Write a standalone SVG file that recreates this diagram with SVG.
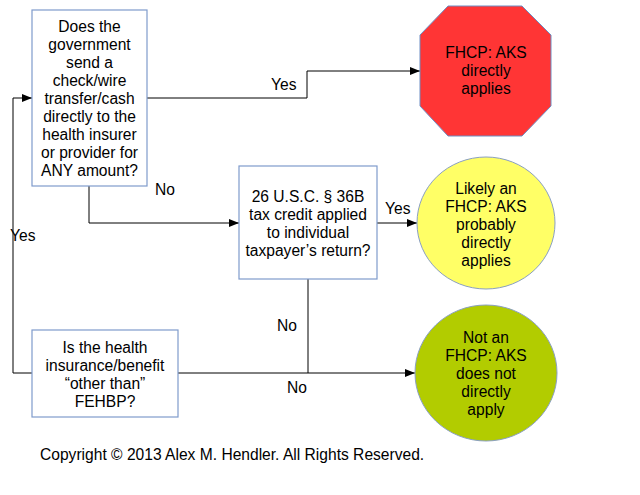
<svg xmlns="http://www.w3.org/2000/svg" width="640" height="495" viewBox="0 0 640 495">
<style>
.box{fill:#fff;stroke:#7f9bcc;stroke-width:1.2}
.t{font-family:"Liberation Sans",Arial,sans-serif;font-size:15.6px;fill:#000;text-anchor:middle}
.l{font-family:"Liberation Sans",Arial,sans-serif;font-size:15.6px;fill:#000}
.c{fill:none;stroke:#000;stroke-width:1}
</style>
<defs>
<marker id="ah" viewBox="0 0 10 8" refX="10" refY="4" markerWidth="10" markerHeight="8" markerUnits="userSpaceOnUse" orient="auto">
<path d="M0,0 L10,4 L0,8 z" fill="#000"/>
</marker>
</defs>
<rect width="640" height="495" fill="#fff"/>
<g id="connectors">
<path class="c" d="M147,98 H307 V71 H420" marker-end="url(#ah)"/>
<path class="c" d="M89,186 V223 H239" marker-end="url(#ah)"/>
<path class="c" d="M377,223 H417" marker-end="url(#ah)"/>
<path class="c" d="M308,279 V373"/>
<path class="c" d="M178,373 H415" marker-end="url(#ah)"/>
<path class="c" d="M32,373 H13 V98 H32" marker-end="url(#ah)"/>
<text class="l" x="271" y="90">Yes</text>
<text class="l" x="155" y="195">No</text>
<text class="l" x="385" y="214">Yes</text>
<text class="l" x="10" y="241">Yes</text>
<text class="l" x="277" y="331">No</text>
<text class="l" x="287" y="393">No</text>
</g>
<g id="q1">
<rect class="box" x="32" y="10" width="115" height="176"/>
<text class="t" x="89.5" y="32">Does the</text>
<text class="t" x="89.5" y="50">government</text>
<text class="t" x="89.5" y="68">send a</text>
<text class="t" x="89.5" y="86">check/wire</text>
<text class="t" x="89.5" y="104">transfer/cash</text>
<text class="t" x="89.5" y="122">directly to the</text>
<text class="t" x="89.5" y="140">health insurer</text>
<text class="t" x="89.5" y="158">or provider for</text>
<text class="t" x="89.5" y="176">ANY amount?</text>
</g>
<g id="stop">
<polygon points="448,6 522,6 551,35 551,106 522,136 448,136 420,106 420,35" fill="#ff3535" stroke="#6d8fc4" stroke-width="1"/>
<text class="t" x="486" y="58">FHCP: AKS</text>
<text class="t" x="486" y="76">directly</text>
<text class="t" x="486" y="94">applies</text>
</g>
<g id="q2">
<rect class="box" x="239" y="166" width="138" height="113"/>
<text class="t" x="308" y="202">26 U.S.C. § 36B</text>
<text class="t" x="308" y="220">tax credit applied</text>
<text class="t" x="308" y="238">to individual</text>
<text class="t" x="308" y="256">taxpayer’s return?</text>
</g>
<g id="likely">
<ellipse cx="486" cy="223" rx="69" ry="66" fill="#ffff66" stroke="#8a9fc4" stroke-width="1"/>
<text class="t" x="486" y="194">Likely an</text>
<text class="t" x="486" y="212">FHCP: AKS</text>
<text class="t" x="486" y="230">probably</text>
<text class="t" x="486" y="248">directly</text>
<text class="t" x="486" y="266">applies</text>
</g>
<g id="q3">
<rect class="box" x="32" y="330" width="146" height="87"/>
<text class="t" x="105" y="353">Is the health</text>
<text class="t" x="105" y="371">insurance/benefit</text>
<text class="t" x="105" y="389">“other than”</text>
<text class="t" x="105" y="407">FEHBP?</text>
</g>
<g id="not">
<ellipse cx="486" cy="373" rx="71" ry="68" fill="#b2cc00" stroke="#8a9fc4" stroke-width="1"/>
<text class="t" x="486" y="343">Not an</text>
<text class="t" x="486" y="361">FHCP: AKS</text>
<text class="t" x="486" y="379">does not</text>
<text class="t" x="486" y="397">directly</text>
<text class="t" x="486" y="415">apply</text>
</g>
<text class="l" x="40" y="460">Copyright © 2013 Alex M. Hendler. All Rights Reserved.</text>
</svg>
